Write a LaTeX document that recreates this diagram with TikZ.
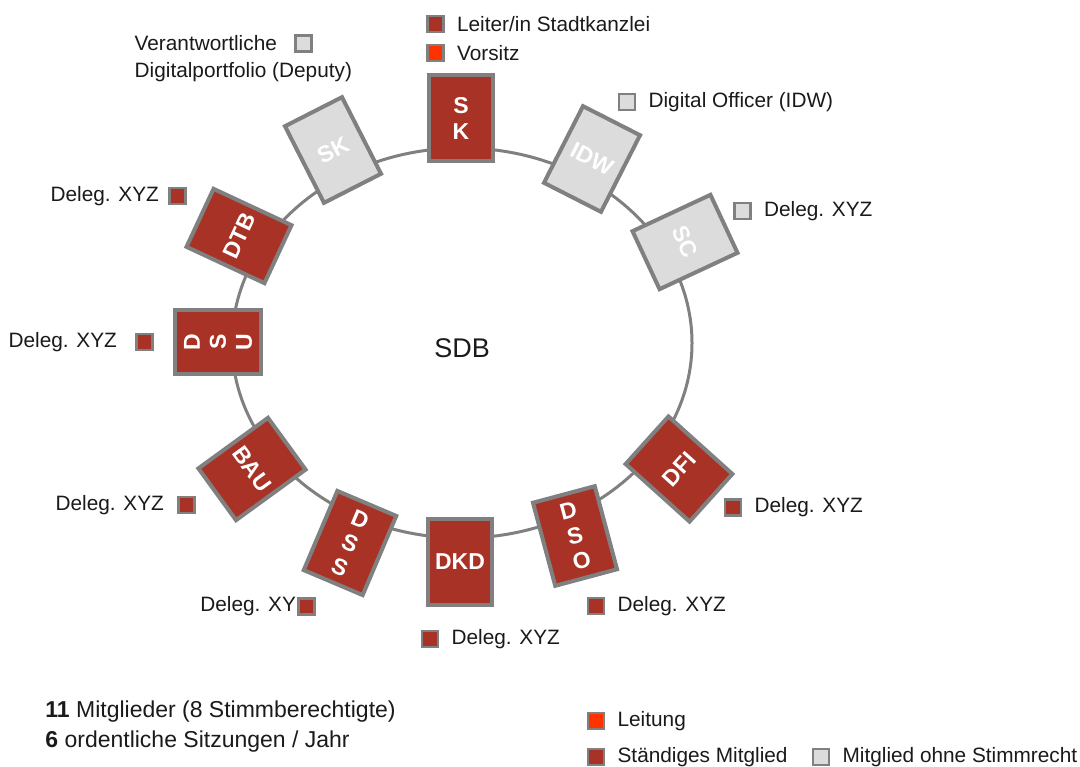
\documentclass[tikz,border=0pt]{standalone}
\usepackage{fontspec}
\setmainfont{Liberation Sans}
\usepackage{tikz}
\usetikzlibrary{shapes.geometric, positioning}
\definecolor{sdbred}{HTML}{A93226}
\definecolor{sdborange}{HTML}{FF3300}
\definecolor{sdbgray}{HTML}{DCDCDC}
\definecolor{sdbline}{HTML}{808080}
\definecolor{sdbtext}{HTML}{1A1A1A}

\begin{document}
\begin{tikzpicture}[
  x=0.5pt, y=-0.5pt,
  node distance=6pt,
  ring/.style={draw=sdbline, line width=1.5pt, ellipse, minimum width=230pt, minimum height=195pt, inner sep=0pt},
  member/.style={draw=sdbline, line width=2pt, fill=sdbred, minimum width=32pt, minimum height=43pt, inner sep=0pt, align=center, text=white, font=\bfseries\fontsize{11.5}{13}\selectfont},
  guest/.style={member, fill=sdbgray, text=white},
  chip/.style={draw=sdbline, line width=1.2pt, minimum size=8pt, inner sep=0pt},
  chipred/.style={chip, fill=sdbred},
  chiplead/.style={chip, fill=sdborange},
  chipgray/.style={chip, fill=sdbgray},
  lbl/.style={inner sep=0pt, text=sdbtext, font=\fontsize{10.4}{12.5}\selectfont},
  summary/.style={inner sep=0pt, anchor=base west, text=sdbtext, font=\fontsize{11.5}{14}\selectfont}
]
  \useasboundingbox (0,0) rectangle (1080,766);

  \node[ring] (sdb) at (462,343) {};
  \node[inner sep=0pt, text=sdbtext, font=\fontsize{13.5}{16}\selectfont] (sdbname) at (462,348) {SDB};

  \node[member] (sk) at (461,118) {S\\K};
  \node[guest, rotate=27] (skd) at (333,150) {SK};
  \node[guest, rotate=-27] (idw) at (592,159) {IDW};
  \node[guest, rotate=-65] (sc) at (685,242) {SC};
  \node[member, rotate=65] (dtb) at (239,236) {DTB};
  \node[member, rotate=90] (dsu) at (218,342) {D\\S\\U};
  \node[member, rotate=-54] (bau) at (252,469) {BAU};
  \node[member, rotate=-23] (dss) at (350,543) {D\\S\\S};
  \node[member] (dkd) at (460,562) {DKD};
  \node[member, rotate=15] (dso) at (575,536) {D\\S\\O};
  \node[member, rotate=48] (dfi) at (679,469) {DFI};

  \node[chipred] (leadchip) at (435.5,24) {};
  \node[lbl, right=of leadchip] (leadtxt) {Leiter/in Stadtkanzlei};
  \node[chiplead] (chairchip) at (435.5,53) {};
  \node[lbl, right=of chairchip] (chairtxt) {Vorsitz};

  \node[chipgray] (skdchip) at (303.5,43.5) {};
  \node[lbl, left=8.5pt of skdchip] (skdtxt) {Verantwortliche};
  \node[lbl, anchor=west] (skdtxtb) at ([yshift=-14.5pt]skdtxt.west) {Digitalportfolio (Deputy)};

  \node[chipgray] (idwchip) at (627,102) {};
  \node[lbl, right=of idwchip] (idwtxt) {Digital Officer (IDW)};
  \node[chipgray] (scchip) at (742.5,211) {};
  \node[lbl, right=of scchip] (sctxt) {Deleg. XYZ};

  \node[chipred] (dtbchip) at (177.5,196) {};
  \node[lbl, left=4.5pt of dtbchip] (dtbtxt) {Deleg. XYZ};
  \node[chipred] (dsuchip) at (144.5,342) {};
  \node[lbl, left=9pt of dsuchip] (dsutxt) {Deleg. XYZ};
  \node[chipred] (bauchip) at (186.5,505) {};
  \node[lbl, left=6.5pt of bauchip] (bautxt) {Deleg. XYZ};
  \node[chipred] (dsschip) at (306.5,606.5) {};
  \node[lbl, left=0.5pt of dsschip] (dsstxt) {Deleg. XY};

  \node[chipred] (dkdchip) at (430,639) {};
  \node[lbl, right=of dkdchip] (dkdtxt) {Deleg. XYZ};
  \node[chipred] (dsochip) at (596,606) {};
  \node[lbl, right=of dsochip] (dsotxt) {Deleg. XYZ};
  \node[chipred] (dfichip) at (733,507.5) {};
  \node[lbl, right=of dfichip] (dfitxt) {Deleg. XYZ};

  \node[summary] (members) at (45,717) {\textbf{11} Mitglieder (8 Stimmberechtigte)};
  \node[summary] (meetings) at (45,747) {\textbf{6} ordentliche Sitzungen / Jahr};

  \node[chiplead] (keylead) at (596,721) {};
  \node[lbl, right=of keylead] (keyleadtxt) {Leitung};
  \node[chipred] (keymember) at (596,757) {};
  \node[lbl, right=of keymember] (keymembertxt) {Ständiges Mitglied};
  \node[chipgray] (keyguest) at (821,757) {};
  \node[lbl, right=of keyguest] (keyguesttxt) {Mitglied ohne Stimmrecht};
\end{tikzpicture}
\end{document}
